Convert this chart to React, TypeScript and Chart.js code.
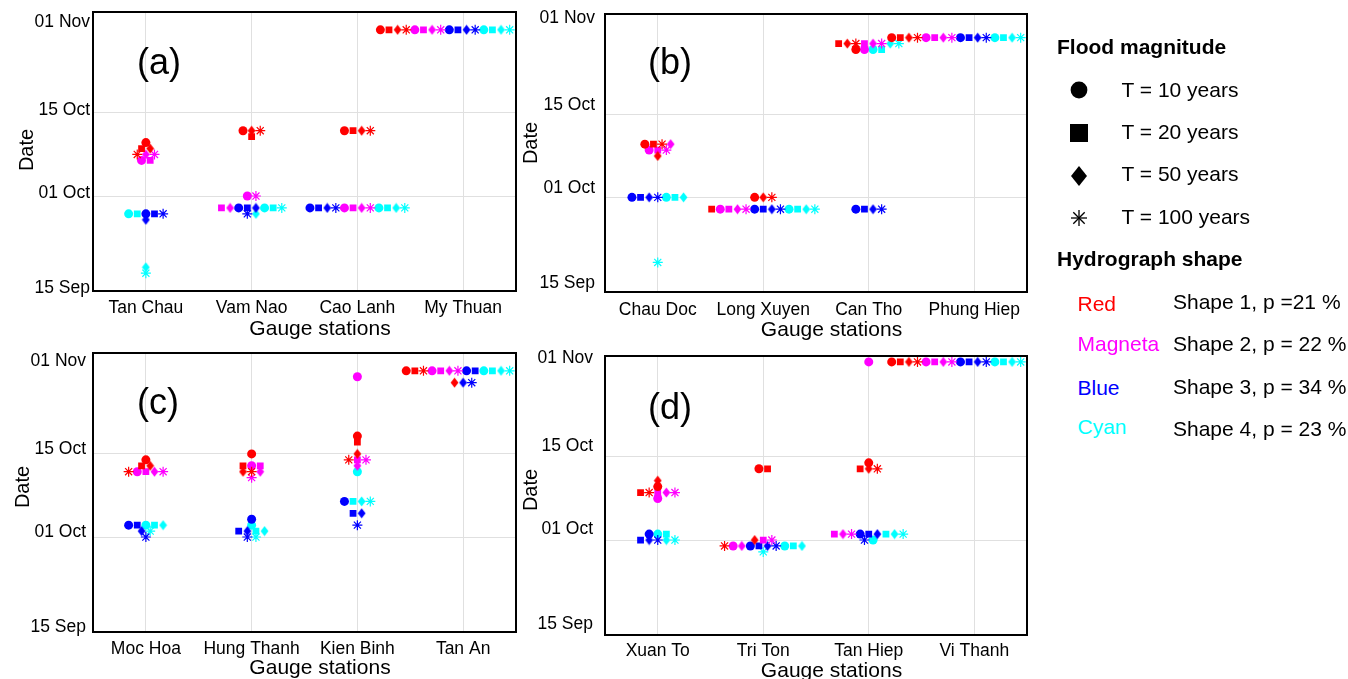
import React, { useEffect, useRef } from 'react';
import { Chart, registerables } from 'chart.js';

Chart.register(...registerables);

const FONT = '"Liberation Sans", Arial, Helvetica, sans-serif';
Chart.defaults.font.family = FONT;
Chart.defaults.color = '#000';

// ---------------- DATA ----------------
// Dates are counted in days after 15 Sep (0 = 15 Sep, 16 = 01 Oct, 30 = 15 Oct, 47 = 01 Nov)
const TICK_DAYS = [0, 16, 30, 47];
const TICK_LABELS = ['15 Sep', '01 Oct', '15 Oct', '01 Nov'];

const MAGNITUDES = ['T = 10 years', 'T = 20 years', 'T = 50 years', 'T = 100 years'];
const SHAPE_NAMES = ['Red', 'Magneta', 'Blue', 'Cyan'];
const SHAPE_TEXT = ['Shape 1, p =21 %', 'Shape 2, p = 22 %', 'Shape 3, p = 34 %', 'Shape 4, p = 23 %'];

const stationsA = ['Tan Chau', 'Vam Nao', 'Cao Lanh', 'My Thuan'];
const stationsB = ['Chau Doc', 'Long Xuyen', 'Can Tho', 'Phung Hiep'];
const stationsC = ['Moc Hoa', 'Hung Thanh', 'Kien Binh', 'Tan An'];
const stationsD = ['Xuan To', 'Tri Ton', 'Tan Hiep', 'Vi Thanh'];

// each array: rows = T10, T20, T50, T100 ; columns = the four stations
const redA = [[25, 27, 27, 44], [24, 26, 27, 44], [24, 27, 27, 44], [23, 27, 27, 44]];
const magentaA = [[22, 16, 14, 44], [22, 14, 14, 44], [23, 14, 14, 44], [23, 16, 14, 44]];
const blueA = [[13, 14, 14, 44], [13, 14, 14, 44], [12, 14, 14, 44], [13, 13, 14, 44]];
const cyanA = [[13, 14, 14, 44], [13, 14, 14, 44], [4, 13, 14, 44], [3, 14, 14, 44]];

const redB = [[25, 16, 41, 43], [25, 14, 42, 43], [23, 16, 42, 43], [25, 16, 42, 43]];
const magentaB = [[24, 14, 41, 43], [24, 14, 42, 43], [25, 14, 42, 43], [24, 14, 42, 43]];
const blueB = [[16, 14, 14, 43], [16, 14, 14, 43], [16, 14, 14, 43], [16, 14, 14, 43]];
const cyanB = [[16, 14, 41, 43], [16, 14, 41, 43], [16, 14, 42, 43], [5, 14, 42, 43]];

const redC = [[29, 30, 33, 44], [28, 28, 32, 44], [28, 27, 30, 42], [27, 27, 29, 44]];
const magentaC = [[27, 28, 43, 44], [27, 28, 29, 44], [27, 27, 28, 44], [27, 26, 29, 44]];
const blueC = [[18, 19, 22, 44], [18, 17, 20, 44], [17, 17, 20, 42], [16, 16, 18, 42]];
const cyanC = [[18, 18, 27, 44], [18, 17, 22, 44], [18, 17, 22, 44], [17, 16, 22, 44]];

const redD = [[25, 28, 29, 46], [24, 28, 28, 46], [26, 16, 28, 46], [24, 15, 28, 46]];
const magentaD = [[23, 15, 46, 46], [24, 16, 17, 46], [24, 15, 17, 46], [24, 16, 17, 46]];
const blueD = [[17, 15, 17, 46], [16, 15, 17, 46], [16, 15, 17, 46], [16, 15, 16, 46]];
const cyanD = [[17, 15, 16, 46], [17, 15, 17, 46], [16, 15, 17, 46], [16, 14, 17, 46]];

// side-by-side ordering of colours (0 red, 1 magenta, 2 blue, 3 cyan) inside a row, per station
const orderA = [[0, 1, 3, 2], [0, 1, 2, 3], [0, 2, 1, 3], [0, 1, 2, 3]];

// ---------------- STYLE ----------------
const COLORS = ['#ff0000', '#ff00ff', '#0000ff', '#00ffff'];
const GRID = '#e0e0e0';
const STEP = 0.0815; // horizontal dodge between markers sharing a date (x units)
const X_LIMIT = 4.44;

type P = { c: number; m: number; s: number; y: number; x: number };

function dodge(series: number[][][], order: number[][] | null): P[] {
  const pts: P[] = [];
  series.forEach((byMag, c) =>
    byMag.forEach((row, m) =>
      row.forEach((y, s) => {
        if (y != null) pts.push({ c, m, s, y, x: s + 1 });
      })
    )
  );
  const groups = new Map<string, P[]>();
  for (const p of pts) {
    const k = p.s + ':' + p.y;
    if (!groups.has(k)) groups.set(k, []);
    groups.get(k)!.push(p);
  }
  const rank = (p: P) => (order ? order[p.s].indexOf(p.c) : p.c) * 4 + p.m;
  groups.forEach((g) => {
    g.sort((a, b) => rank(a) - rank(b));
    const n = g.length;
    g.forEach((p, i) => {
      p.x = p.s + 1 + (i - (n - 1) / 2) * STEP;
    });
    const over = g[n - 1].x - X_LIMIT;
    if (over > 0) g.forEach((p) => (p.x -= over));
  });
  return pts;
}

function diamondCanvas(color: string) {
  const c = document.createElement('canvas');
  c.width = 9;
  c.height = 11;
  const g = c.getContext('2d')!;
  g.fillStyle = color;
  g.beginPath();
  g.moveTo(4.5, 0.5);
  g.lineTo(8.4, 5.5);
  g.lineTo(4.5, 10.5);
  g.lineTo(0.6, 5.5);
  g.closePath();
  g.fill();
  return c;
}

const framePlugin = {
  id: 'frame',
  afterLayout(chart: any, _a: any, opts: any) {
    const x = chart.scales.x;
    x.left += opts.xTitleShift;
    x.right += opts.xTitleShift;
    const y = chart.scales.y;
    y.top += opts.yTitleShift;
    y.bottom += opts.yTitleShift;
  },
  afterDraw(chart: any, _a: any, opts: any) {
    const { ctx, chartArea: a } = chart;
    ctx.save();
    ctx.strokeStyle = '#000';
    ctx.lineWidth = 2;
    ctx.strokeRect(a.left, a.top, a.right - a.left, a.bottom - a.top);
    ctx.fillStyle = '#000';
    ctx.font = '36px ' + FONT;
    ctx.textBaseline = 'alphabetic';
    ctx.textAlign = 'left';
    ctx.fillText(opts.label, a.left + opts.labelDx, a.top + opts.labelDy);
    ctx.restore();
  },
};

type PanelCfg = {
  label: string;
  stations: string[];
  series: number[][][];
  order: number[][] | null;
  left: number;
  top: number;
  w: number;
  h: number;
  yW: number;
  xH: number;
  padTop: number;
  padRight: number;
  yTickPad: number;
  yLabelOffset: number;
  yTitlePad: number;
  yTitleShift: number;
  xTickPad: number;
  xTitlePad: number;
  labelDx: number;
  labelDy: number;
};

const PANELS: PanelCfg[] = [
  { label: '(a)', stations: stationsA, series: [redA, magentaA, blueA, cyanA], order: orderA, left: 0, top: 0, w: 540, h: 345, yW: 93, xH: 54, padTop: 12, padRight: 24, yTickPad: 3, yLabelOffset: -3, yTitlePad: 15, yTitleShift: -1.5, xTickPad: 7, xTitlePad: 3, labelDx: 44, labelDy: 62 },
  { label: '(b)', stations: stationsB, series: [redB, magentaB, blueB, cyanB], order: null, left: 510, top: 0, w: 550, h: 345, yW: 95, xH: 53, padTop: 14, padRight: 33, yTickPad: 10, yLabelOffset: -9, yTitlePad: 9, yTitleShift: -10, xTickPad: 8, xTitlePad: 2.4, labelDx: 43, labelDy: 59.5 },
  { label: '(c)', stations: stationsC, series: [redC, magentaC, blueC, cyanC], order: null, left: 0, top: 340, w: 540, h: 345, yW: 93, xH: 53, padTop: 13, padRight: 24, yTickPad: 7, yLabelOffset: -5, yTitlePad: 11, yTitleShift: -5.5, xTickPad: 7, xTitlePad: 4.4, labelDx: 44, labelDy: 60.5 },
  { label: '(d)', stations: stationsD, series: [redD, magentaD, blueD, cyanD], order: null, left: 510, top: 340, w: 550, h: 345, yW: 95, xH: 50, padTop: 16, padRight: 33, yTickPad: 12, yLabelOffset: -11, yTitlePad: 9, yTitleShift: -5.5, xTickPad: 6, xTitlePad: 1.4, labelDx: 43, labelDy: 62.5 },
];

function Panel({ cfg }: { cfg: PanelCfg }) {
  const ref = useRef<HTMLCanvasElement>(null);
  useEffect(() => {
    const pts = dodge(cfg.series, cfg.order);
    const datasets: any[] = [];
    for (let c = 0; c < 4; c++) {
      for (let m = 0; m < 4; m++) {
        const data = pts.filter((p) => p.c === c && p.m === m).map((p) => ({ x: p.x, y: p.y }));
        const base: any = {
          label: SHAPE_NAMES[c] + ' ' + MAGNITUDES[m],
          data,
          showLine: false,
          backgroundColor: COLORS[c],
          borderColor: COLORS[c],
          pointBorderWidth: 0,
        };
        if (m === 0) Object.assign(base, { pointStyle: 'circle', pointRadius: 4.5 });
        if (m === 1) Object.assign(base, { pointStyle: 'rect', pointRadius: 4.8 });
        if (m === 2) Object.assign(base, { pointStyle: diamondCanvas(COLORS[c]), pointRadius: 5 });
        if (m === 3) Object.assign(base, { pointStyle: 'star', pointRadius: 5, pointBorderWidth: 1.2 });
        datasets.push(base);
      }
    }
    const chart = new Chart(ref.current!, {
      type: 'scatter',
      data: { datasets },
      plugins: [framePlugin as any],
      options: {
        animation: false,
        responsive: false,
        devicePixelRatio: 1,
        events: [],
        layout: { padding: { left: 0, top: cfg.padTop, right: cfg.padRight, bottom: 0 } },
        plugins: {
          legend: { display: false },
          tooltip: { enabled: false },
          frame: {
            label: cfg.label,
            labelDx: cfg.labelDx,
            labelDy: cfg.labelDy,
            xTitleShift: 15.5,
            yTitleShift: cfg.yTitleShift,
          },
        } as any,
        scales: {
          x: {
            type: 'linear',
            min: 0.5,
            max: 4.5,
            afterBuildTicks: (s: any) => {
              s.ticks = cfg.stations.map((_, i) => ({ value: i + 1 }));
            },
            afterFit: (s: any) => {
              s.height = cfg.xH;
              s.paddingLeft = 0;
              s.paddingRight = 0;
            },
            ticks: {
              callback: (_v: any, i: number) => cfg.stations[i],
              font: { size: 17.5, family: FONT },
              color: '#000',
              padding: cfg.xTickPad,
              autoSkip: false,
              maxRotation: 0,
            },
            grid: { color: GRID, drawTicks: false, lineWidth: 1 },
            border: { display: false },
            title: {
              display: true,
              text: 'Gauge stations',
              font: { size: 21, family: FONT },
              color: '#000',
              padding: { top: 0, bottom: cfg.xTitlePad },
            },
          },
          y: {
            type: 'linear',
            min: 0,
            max: 47,
            afterBuildTicks: (s: any) => {
              s.ticks = TICK_DAYS.map((v) => ({ value: v }));
            },
            afterFit: (s: any) => {
              s.width = cfg.yW;
              s.paddingTop = 0;
              s.paddingBottom = 0;
            },
            ticks: {
              callback: (_v: any, i: number, arr: any[]) =>
                i === arr.length - 1 ? ['', TICK_LABELS[i]] : TICK_LABELS[i],
              font: { size: 17.5, family: FONT, lineHeight: 1.5 },
              color: '#000',
              padding: cfg.yTickPad,
              labelOffset: cfg.yLabelOffset,
              autoSkip: false,
            },
            grid: { color: GRID, drawTicks: false, lineWidth: 1 },
            border: { display: false },
            title: {
              display: true,
              text: 'Date',
              font: { size: 20, family: FONT },
              color: '#000',
              padding: { top: cfg.yTitlePad, bottom: 0 },
            },
          },
        },
      } as any,
    });
    return () => chart.destroy();
  }, [cfg]);
  return (
    <canvas
      ref={ref}
      width={cfg.w}
      height={cfg.h}
      style={{ position: 'absolute', left: cfg.left, top: cfg.top, width: cfg.w, height: cfg.h }}
    />
  );
}

const LEG_MARK_Y = [90, 132.5, 175.5, 218];
const LEG_TEXT_Y = [89.5, 131.5, 174, 216.5];
const SHAPE_NAME_Y = [303.5, 343.5, 387.5, 426.5];
const SHAPE_TEXT_Y = [302, 343.5, 386.5, 429];

function LegendMarker({ i }: { i: number }) {
  let shape: any = null;
  if (i === 0) shape = <circle cx={12} cy={12} r={8.4} fill="#000" />;
  if (i === 1) shape = <rect x={3} y={3} width={18} height={18} fill="#000" />;
  if (i === 2) shape = <polygon points="12,2 20,12 12,22 4,12" fill="#000" />;
  if (i === 3)
    shape = (
      <g stroke="#000" strokeWidth={1.3}>
        <line x1={12} y1={4} x2={12} y2={20} />
        <line x1={4} y1={12} x2={20} y2={12} />
        <line x1={6.3} y1={6.3} x2={17.7} y2={17.7} />
        <line x1={6.3} y1={17.7} x2={17.7} y2={6.3} />
      </g>
    );
  return (
    <svg width={24} height={24} style={{ position: 'absolute', left: 1079 - 12, top: LEG_MARK_Y[i] - 12 }}>
      {shape}
    </svg>
  );
}

function txt(left: number, cy: number, content: string, extra: any = {}) {
  return (
    <div
      key={content + left}
      style={{
        position: 'absolute',
        left,
        top: cy - 12,
        fontSize: 21,
        lineHeight: '24px',
        whiteSpace: 'nowrap',
        fontFamily: FONT,
        color: '#000',
        ...extra,
      }}
    >
      {content}
    </div>
  );
}

export default function App() {
  return (
    <div
      style={{
        position: 'absolute',
        left: 0,
        top: 0,
        width: 1348,
        height: 679,
        overflow: 'hidden',
        background: '#fff',
        fontFamily: FONT,
      }}
    >
      {PANELS.map((p) => (
        <Panel key={p.label} cfg={p} />
      ))}
      {txt(1057, 47, 'Flood magnitude', { fontWeight: 'bold' })}
      {MAGNITUDES.map((m, i) => (
        <React.Fragment key={m}>
          <LegendMarker i={i} />
          {txt(1121.5, LEG_TEXT_Y[i], m)}
        </React.Fragment>
      ))}
      {txt(1057, 259, 'Hydrograph shape', { fontWeight: 'bold' })}
      {SHAPE_NAMES.map((n, i) => (
        <React.Fragment key={n}>
          {txt(1077.5, SHAPE_NAME_Y[i], n, { color: COLORS[i] })}
          {txt(1173, SHAPE_TEXT_Y[i], SHAPE_TEXT[i])}
        </React.Fragment>
      ))}
    </div>
  );
}
